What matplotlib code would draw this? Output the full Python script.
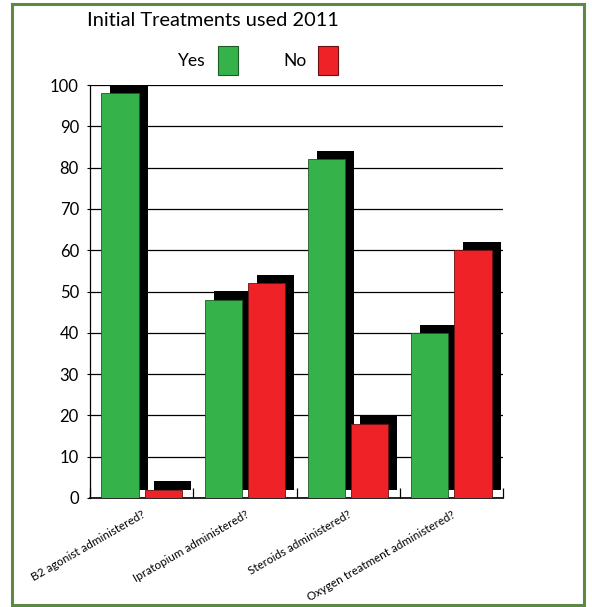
import matplotlib
matplotlib.use("Agg")
import matplotlib.pyplot as plt
from matplotlib.patches import Rectangle
import numpy as np

plt.rcParams['font.family'] = ['Lato', 'DejaVu Sans']

# data
categories = ["B2 agonist administered?", "Ipratopium administered?",
              "Steroids administered?", "Oxygen treatment administered?"]
yes_values = [98, 48, 82, 40]
no_values = [2, 52, 18, 60]
y_ticks = list(range(0, 101, 10))

GREEN = '#35b34a'
RED = '#ee2227'
W, H = 592, 607

fig = plt.figure(figsize=(W / 100, H / 100), dpi=100)
ax = fig.add_axes([90 / W, 1 - 498 / H, 413 / W, 413 / H])

x = np.arange(len(categories))
bw = 0.36
yes_x = x + 0.29
no_x = x + 0.71
dx, dy = 0.087, 2  # drop-shadow offset

# shadows first, then the coloured bars on top
ax.bar(yes_x + dx, yes_values, bw, bottom=dy, color='black', zorder=2)
ax.bar(no_x + dx, no_values, bw, bottom=dy, color='black', zorder=2)
ax.bar(yes_x, yes_values, bw, color=GREEN, edgecolor='#1d5a28', lw=0.6, zorder=3)
ax.bar(no_x, no_values, bw, color=RED, edgecolor='#6a1010', lw=0.6, zorder=3)

ax.set_xlim(0, len(categories))
ax.set_ylim(0, 100)
ax.set_yticks(y_ticks)
ax.set_yticklabels([str(v) for v in y_ticks], fontsize=12)
ax.tick_params(axis='y', length=2, width=0.8, pad=6)

ax.set_xticks(x + 0.5)
ax.set_xticklabels(categories, rotation=30, ha='right', va='top',
                   rotation_mode='anchor', fontsize=8.4)
ax.tick_params(axis='x', length=0, pad=8)
ax.set_xticks(np.arange(len(categories) + 1), minor=True)
ax.tick_params(axis='x', which='minor', direction='in', length=7, width=0.9)

ax.grid(axis='y', color='black', lw=0.9, zorder=0)
ax.set_axisbelow(True)
for s in ['top', 'right']:
    ax.spines[s].set_visible(False)
ax.spines['left'].set_linewidth(0.9)
ax.spines['bottom'].set_linewidth(1.2)

# title
fig.text(87 / W, 1 - 20 / H, "Initial Treatments used 2011", fontsize=14.4,
         ha='left', va='center')

# legend
fig.text(206 / W, 1 - 61 / H, "Yes", fontsize=12.5, ha='right', va='center')
fig.patches.append(Rectangle((218 / W, 1 - 75 / H), 20 / W, 29 / H,
                             transform=fig.transFigure, facecolor=GREEN,
                             edgecolor='#1d5a28', lw=0.8))
fig.text(307 / W, 1 - 61 / H, "No", fontsize=12.5, ha='right', va='center')
fig.patches.append(Rectangle((318 / W, 1 - 75 / H), 20 / W, 29 / H,
                             transform=fig.transFigure, facecolor=RED,
                             edgecolor='#6a1010', lw=0.8))

# outer frame
fig.patches.append(Rectangle((12 / W, 2 / H), 572 / W, 601 / H,
                             transform=fig.transFigure, fill=False,
                             edgecolor='#5b8a40', lw=2.2))

fig.savefig('out.png', dpi=100)
